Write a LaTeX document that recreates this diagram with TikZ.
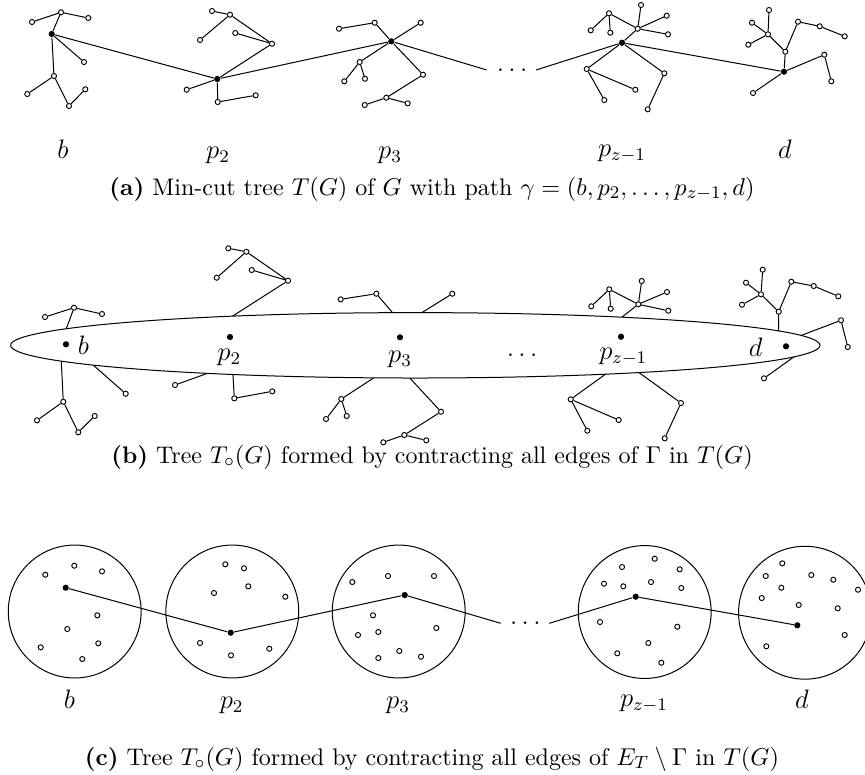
\documentclass[tikz,border=0pt]{standalone}
\usetikzlibrary{calc}
\begin{document}
\begin{tikzpicture}[x=0.45pt,y=-0.45pt,
  wn/.style={circle,draw,fill=white,inner sep=0pt,minimum size=2.3pt,line width=0.42pt},
  bn/.style={circle,fill=black,inner sep=0pt,minimum size=2.8pt},
  ed/.style={line width=0.45pt},
  lab/.style={inner sep=0pt,anchor=base,font=\large},
  dotlab/.style={inner sep=0pt,anchor=base west,font=\large},
  captxt/.style={inner sep=0pt,anchor=base,font=\fontsize{10.8}{13}\selectfont},
  bag/.style={circle,draw,line width=0.45pt,inner sep=0pt,minimum size=59.8pt}]
\useasboundingbox (0,0) rectangle (865,774);
\clip (0,0) rectangle (865,774);
% ================= (a) =================
\node[bn] (aB) at (51.7,34) {};
\node[wn] (a1) at (61,12.3) {};
\node[wn] (a2) at (32,22) {};
\node[wn] (a3) at (88.3,18) {};
\node[wn] (a4) at (84,62) {};
\node[wn] (a5) at (54,76) {};
\node[wn] (a6) at (27.3,94) {};
\node[wn] (a7) at (69,106) {};
\node[wn] (a8) at (85.3,89.3) {};
\node[bn] (aP2) at (217.3,79) {};
\node[wn] (c1) at (212,11) {};
\node[wn] (c2) at (230,14.7) {};
\node[wn] (c3) at (200,40) {};
\node[wn] (c4) at (235.3,33) {};
\node[wn] (c5) at (272,43.7) {};
\node[wn] (c6) at (186.7,89.7) {};
\node[wn] (c7) at (217.7,102) {};
\node[wn] (c8) at (255.7,95.3) {};
\node[bn] (aP3) at (391.3,41.3) {};
\node[wn] (e1) at (339,28.7) {};
\node[wn] (e2) at (374.7,22.7) {};
\node[wn] (e3) at (420.7,22.7) {};
\node[wn] (e4) at (359.7,62) {};
\node[wn] (e5) at (344.3,81.3) {};
\node[wn] (e6) at (365,78.7) {};
\node[wn] (e7) at (423,74.7) {};
\node[wn] (e8) at (386.3,97.7) {};
\node[wn] (e9) at (364.7,105) {};
\node[wn] (e10) at (407.7,103.3) {};
\node[bn] (aPz) at (622,42.7) {};
\node[wn] (f1) at (641,5) {};
\node[wn] (f2) at (609,13.3) {};
\node[wn] (f3) at (590.7,30.3) {};
\node[wn] (f4) at (610.3,32.7) {};
\node[wn] (f5) at (637.7,28.7) {};
\node[wn] (f6) at (666.7,15.7) {};
\node[wn] (f7) at (668,34.3) {};
\node[wn] (f8) at (586.7,69) {};
\node[wn] (f9) at (635.3,89.7) {};
\node[wn] (f10) at (604.3,100) {};
\node[wn] (f11) at (664.3,73.3) {};
\node[wn] (f12) at (647.7,109.3) {};
\node[bn] (aD) at (784,71.7) {};
\node[wn] (g1) at (769,10) {};
\node[wn] (g2) at (752,22.7) {};
\node[wn] (g3) at (768,34.3) {};
\node[wn] (g4) at (748.3,44.7) {};
\node[wn] (g5) at (785.3,51.7) {};
\node[wn] (g6) at (798,21.7) {};
\node[wn] (g7) at (819.7,26.3) {};
\node[wn] (g8) at (844.7,36.3) {};
\node[wn] (g9) at (824.3,54.7) {};
\node[wn] (g10) at (831.3,81.3) {};
\node[wn] (g11) at (753,93) {};
\node[dotlab] (adots) at (496.3,71.5) {.\kern2pt.\kern2pt.};
\coordinate (adl) at (486.7,70);
\coordinate (adr) at (536,70);
\draw[ed] (aB)--(a1) (a1)--(a2) (a1)--(a3) (aB)--(a4) (aB)--(a5) (a5)--(a6) (a5)--(a7) (a7)--(a8);
\draw[ed] (c1)--(c2) (c2)--(c3) (c2)--(c5) (c4)--(c5) (c5)--(aP2) (aP2)--(c6) (aP2)--(c7) (c7)--(c8);
\draw[ed] (e1)--(e2) (e2)--(aP3) (aP3)--(e3) (aP3)--(e4) (e4)--(e5) (e4)--(e6) (aP3)--(e7) (e7)--(e8) (e8)--(e9) (e8)--(e10);
\draw[ed] (aPz)--(f5) (f5)--(f2) (f2)--(f3) (f2)--(f4) (f5)--(f1) (f5)--(f6) (f5)--(f7) (aPz)--(f8) (f8)--(f9) (f8)--(f10) (aPz)--(f11) (f11)--(f12);
\draw[ed] (g1)--(g3) (g2)--(g3) (g4)--(g3) (g3)--(g5) (g5)--(g6) (g6)--(g7) (g7)--(g8) (g5)--(aD) (aD)--(g9) (g9)--(g10) (aD)--(g11);
\draw[ed] (aB)--(aP2) (aP2)--(aP3) (aP3)--(adl) (adr)--(aPz) (aPz)--(aD);
\node[lab] (la1) at (63,158) {$b$};
\node[lab] (la2) at (218,158) {$p_2$};
\node[lab] (la3) at (390,158) {$p_3$};
\node[lab] (la4) at (622,156) {$p_{z-1}$};
\node[lab] (la5) at (785,158) {$d$};
\node[captxt] (capa) at (432,195) {\textbf{(a)} Min-cut tree $T(G)$ of $G$ with path $\gamma=(b,p_2,\dots,p_{z-1},d)$};
% ================= (b) =================
\node[wn] (bu) at (74,307.7) {};
\node[wn] (bu1) at (45,317) {};
\node[wn] (bu2) at (102,314) {};
\node[wn] (bl) at (63.3,401.7) {};
\node[wn] (bl1) at (37,420.3) {};
\node[wn] (bl2) at (78.3,432.3) {};
\node[wn] (bl3) at (94.7,416) {};
\node[wn] (bm) at (125.7,393.7) {};
\node[wn] (q1) at (288,280.7) {};
\node[wn] (q2) at (246.3,251.7) {};
\node[wn] (q3) at (228.3,248.3) {};
\node[wn] (q4) at (216.7,277.7) {};
\node[wn] (q5) at (251.7,270) {};
\node[wn] (q6) at (175,385) {};
\node[wn] (q7) at (234.3,398.3) {};
\node[wn] (q8) at (272.3,391.3) {};
\node[wn] (r1) at (376.3,293.7) {};
\node[wn] (r2) at (340.7,299.3) {};
\node[wn] (r3) at (452.3,293.7) {};
\node[wn] (r4) at (341.3,399) {};
\node[wn] (r5) at (326,419) {};
\node[wn] (r6) at (346.7,416) {};
\node[wn] (r7) at (441,411.7) {};
\node[wn] (r8) at (404.3,435) {};
\node[wn] (r9) at (383.3,442.3) {};
\node[wn] (r10) at (426.3,440.3) {};
\node[wn] (s1) at (638.3,304.3) {};
\node[wn] (s2) at (609.3,289.3) {};
\node[wn] (s3) at (591.3,306.3) {};
\node[wn] (s4) at (610.7,308.7) {};
\node[wn] (s5) at (641.7,281) {};
\node[wn] (s6) at (667,292) {};
\node[wn] (s7) at (668.3,310.7) {};
\node[wn] (s8) at (570.7,399.3) {};
\node[wn] (s9) at (618.7,420) {};
\node[wn] (s10) at (587.3,430.7) {};
\node[wn] (s11) at (681,403) {};
\node[wn] (s12) at (664.7,438.3) {};
\node[wn] (t1) at (778.7,311.7) {};
\node[wn] (t2) at (761,294.3) {};
\node[wn] (t3) at (762.7,269.7) {};
\node[wn] (t4) at (746,282.7) {};
\node[wn] (t5) at (742,304.7) {};
\node[wn] (t6) at (791.3,281.7) {};
\node[wn] (t7) at (813.7,286) {};
\node[wn] (t8) at (838.3,296.3) {};
\node[wn] (t9) at (841,320.3) {};
\node[wn] (t10) at (847.7,347) {};
\node[wn] (t11) at (764,378.3) {};
% attachment points on the ellipse
\coordinate (x1) at (66.7,327.7);
\coordinate (x2) at (61.3,361.7);
\coordinate (x3) at (94.3,366);
\coordinate (x4) at (234.3,315);
\coordinate (x5) at (204.7,374.3);
\coordinate (x6) at (233,375.7);
\coordinate (x7) at (391.7,311.7);
\coordinate (x8) at (423.3,311.7);
\coordinate (x9) at (372,379);
\coordinate (x10) at (410.7,379);
\coordinate (x11) at (623.3,316);
\coordinate (x12) at (604.3,375);
\coordinate (x13) at (640,373.3);
\coordinate (x14) at (778.7,330);
\coordinate (x15) at (802.3,335);
\coordinate (x16) at (792.7,357.7);
\draw[ed] (bu)--($(x1)!-4pt!(bu)$) (bu)--(bu1) (bu)--(bu2);
\draw[ed] (bl)--($(x2)!-4pt!(bl)$) (bl)--(bl1) (bl)--(bl2) (bl2)--(bl3);
\draw[ed] (bm)--($(x3)!-4pt!(bm)$);
\draw[ed] (q1)--($(x4)!-4pt!(q1)$) (q1)--(q2) (q2)--(q3) (q2)--(q4) (q1)--(q5);
\draw[ed] (q6)--($(x5)!-4pt!(q6)$) (q7)--($(x6)!-4pt!(q7)$) (q7)--(q8);
\draw[ed] (r1)--($(x7)!-4pt!(r1)$) (r1)--(r2) (r3)--($(x8)!-4pt!(r3)$);
\draw[ed] (r4)--($(x9)!-4pt!(r4)$) (r4)--(r5) (r4)--(r6);
\draw[ed] (r7)--($(x10)!-4pt!(r7)$) (r7)--(r8) (r8)--(r9) (r8)--(r10);
\draw[ed] (s1)--($(x11)!-4pt!(s1)$) (s1)--(s2) (s2)--(s3) (s2)--(s4) (s1)--(s5) (s1)--(s6) (s1)--(s7);
\draw[ed] (s8)--($(x12)!-4pt!(s8)$) (s8)--(s9) (s8)--(s10);
\draw[ed] (s11)--($(x13)!-4pt!(s11)$) (s11)--(s12);
\draw[ed] (t1)--($(x14)!-4pt!(t1)$) (t1)--(t2) (t2)--(t3) (t2)--(t4) (t2)--(t5) (t1)--(t6) (t6)--(t7) (t7)--(t8);
\draw[ed] (t9)--($(x15)!-4pt!(t9)$) (t9)--(t10);
\draw[ed] (t11)--($(x16)!-4pt!(t11)$);
\draw[ed,fill=white] (415.3,345.3) ellipse [x radius=404.7, y radius=32.7];
\node[bn] (bB) at (66,344.3) {};
\node[bn] (bP2) at (230,337) {};
\node[bn] (bP3) at (400,337.3) {};
\node[bn] (bPz) at (621,336.7) {};
\node[bn] (bD) at (786,346.3) {};
\node[lab] (lb1) at (83.3,354.5) {$b$};
\node[lab] (lb2) at (229.3,360.5) {$p_2$};
\node[lab] (lb3) at (400,362) {$p_3$};
\node[dotlab] (bdots) at (506.3,356.5) {.\kern2pt.\kern2pt.};
\node[lab] (lb4) at (623.3,359) {$p_{z-1}$};
\node[lab] (lb5) at (755.7,356.5) {$d$};
\node[captxt] (capb) at (432,463) {\textbf{(b)} Tree $T_\circ(G)$ formed by contracting all edges of $\Gamma$ in $T(G)$};
% ================= (c) =================
\node[bag] (K1) at (74.7,611.5) {};
\node[bag] (K2) at (232.3,611.5) {};
\node[bag] (K3) at (398.7,611.5) {};
\node[bag] (K4) at (644.7,612) {};
\node[bag] (K5) at (805,612.7) {};
\node[bn] (cB) at (65.7,587.7) {};
\node[wn] (h1) at (45.3,574.7) {};
\node[wn] (h2) at (74.3,565.7) {};
\node[wn] (h3) at (102,571.3) {};
\node[wn] (h4) at (97.3,615.3) {};
\node[wn] (h5) at (67.3,629) {};
\node[wn] (h6) at (40.7,647.3) {};
\node[wn] (h7) at (98.3,643.3) {};
\node[wn] (h8) at (82.3,659) {};
\node[bn] (cP2) at (230.7,632.7) {};
\node[wn] (i1) at (225.3,564.3) {};
\node[wn] (i2) at (244,568.3) {};
\node[wn] (i3) at (214,593) {};
\node[wn] (i4) at (248.3,586.3) {};
\node[wn] (i5) at (285.3,596.7) {};
\node[wn] (i6) at (200,643) {};
\node[wn] (i7) at (231,655.3) {};
\node[wn] (i8) at (269.3,648.7) {};
\node[bn] (cP3) at (404.7,595) {};
\node[wn] (j1) at (352.3,582) {};
\node[wn] (j2) at (388,576) {};
\node[wn] (j3) at (434,576) {};
\node[wn] (j4) at (373,615.3) {};
\node[wn] (j5) at (358,635) {};
\node[wn] (j6) at (378.3,632) {};
\node[wn] (j7) at (436.3,628) {};
\node[wn] (j8) at (378.3,658) {};
\node[wn] (j9) at (399.3,651) {};
\node[wn] (j10) at (421,656.7) {};
\node[bn] (cPz) at (635.7,596.7) {};
\node[wn] (k1) at (622,567) {};
\node[wn] (k2) at (654.7,558.7) {};
\node[wn] (k3) at (679.7,569.3) {};
\node[wn] (k4) at (604,583.7) {};
\node[wn] (k5) at (623.3,586.3) {};
\node[wn] (k6) at (651,582) {};
\node[wn] (k7) at (681.3,588) {};
\node[wn] (k8) at (600,622) {};
\node[wn] (k9) at (677.3,626.7) {};
\node[wn] (k10) at (648.3,643) {};
\node[wn] (k11) at (617.3,653.3) {};
\node[wn] (k12) at (661.3,662.7) {};
\node[bn] (cD) at (797.3,625.3) {};
\node[wn] (m1) at (782.3,563.3) {};
\node[wn] (m2) at (765.7,576) {};
\node[wn] (m3) at (811.3,575) {};
\node[wn] (m4) at (833.3,579.7) {};
\node[wn] (m5) at (858,589.7) {};
\node[wn] (m6) at (781.3,587.7) {};
\node[wn] (m7) at (761.7,598) {};
\node[wn] (m8) at (798.7,605) {};
\node[wn] (m9) at (837.7,608.3) {};
\node[wn] (m10) at (844.7,635) {};
\node[wn] (m11) at (766.3,646.3) {};
\coordinate (cdl) at (500.7,623.3);
\coordinate (cdr) at (549.3,623.3);
\node[dotlab] (cdots) at (509.6,624.8) {.\kern2pt.\kern2pt.};
\draw[ed] (cB)--(cP2) (cP2)--(cP3) (cP3)--(cdl) (cdr)--(cPz) (cPz)--(cD);
\node[lab] (lc1) at (69.3,708.3) {$b$};
\node[lab] (lc2) at (231.7,708.3) {$p_2$};
\node[lab] (lc3) at (398,708.3) {$p_3$};
\node[lab] (lc4) at (644,706) {$p_{z-1}$};
\node[lab] (lc5) at (802,708.3) {$d$};
\node[captxt] (capc) at (432,765) {\textbf{(c)} Tree $T_\circ(G)$ formed by contracting all edges of $E_T\setminus\Gamma$ in $T(G)$};
\end{tikzpicture}
\end{document}
